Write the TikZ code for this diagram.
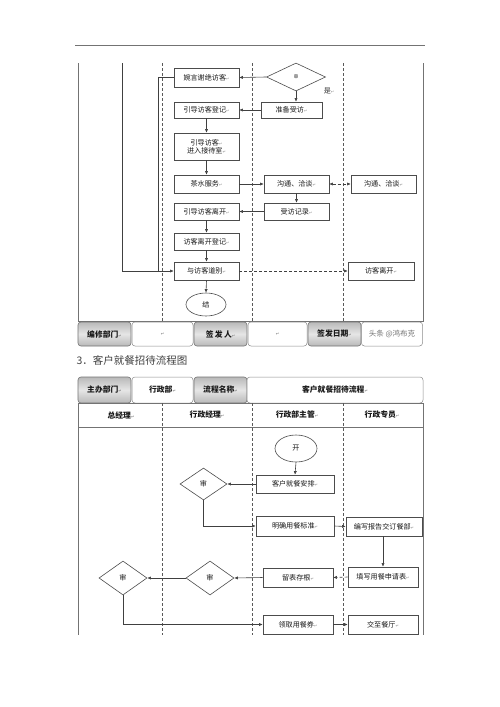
\documentclass[tikz,border=0pt]{standalone}
\usepackage{fontspec}
\setmainfont{Noto Sans CJK SC}
\newfontfamily\dejavu{DejaVu Sans}
\usetikzlibrary{shapes.geometric,arrows.meta}
\newcommand\lbl{\fontsize{7.1}{8.4}\selectfont}
\newcommand\hlbl{\fontsize{7.8}{9}\selectfont}
\newcommand\rmk{{\dejavu\fontsize{4}{4}\selectfont\textcolor{black!45}{↵}}}
\begin{document}
\begin{tikzpicture}[x=1pt,y=-1pt,
 box/.style={draw=black!70, line width=0.6pt, fill=white, inner sep=1pt, font=\lbl, text=black!90, align=center},
 gcell/.style={draw=black!55, line width=0.6pt, rounded corners=3pt, top color=gray!55, bottom color=gray!55, middle color=gray!20, font=\hlbl\bfseries, text=black!90},
 wcell/.style={draw=black!45, line width=0.5pt, rounded corners=3pt, fill=white, font=\hlbl\bfseries, text=black!90},
 lane/.style={draw=black!65, line width=0.6pt, densely dashed},
 frame/.style={draw=black!55, line width=0.8pt},
 link/.style={draw=black!75, line width=0.6pt},
 arr/.style={link, -{Latex[length=3.6pt,width=3.2pt]}},
 darr/.style={arr, densely dashed},
 dec/.style={diamond, draw=black!70, line width=0.6pt, inner sep=0pt, fill=white, font=\lbl, text=black!90},
 term/.style={ellipse, draw=black!70, line width=0.6pt, inner sep=0pt, fill=white, font=\lbl, text=black!90},
 lanelbl/.style={font=\hlbl\bfseries, text=black!90},
]
\useasboundingbox[fill=white] (0,0) rectangle (500,707);

% ===== upper diagram =====
\draw[frame] (75,45) -- (425,45);
\draw[frame] (78,63) -- (78,321) -- (423,321) -- (423,63);
\foreach \x in {162,252,343} \draw[lane] (\x,63) -- (\x,321);

\node[box, minimum width=65, minimum height=19] (wanyan) at (206.5,77.5) {婉言谢绝访客\rmk};
\node[dec, minimum width=59, minimum height=28] (d1) at (296,77) {\fontsize{4.5}{5}\selectfont 审};
\node[font=\lbl, text=black!80] (shi) at (329,91) {是\rmk};
\node[box, minimum width=61, minimum height=16] (zhunbei) at (291.5,110) {准备受访\rmk};
\node[box, minimum width=65, minimum height=16] (dengji) at (206.5,110) {引导访客登记\rmk};
\node[box, minimum width=65, minimum height=27] (jiedai) at (206.5,146.5) {引导访客\rmk\\进入接待室\rmk};
\node[box, minimum width=65, minimum height=18] (chashui) at (206.5,184) {茶水服务\rmk};
\node[box, minimum width=65, minimum height=18] (goutongA) at (296.5,184) {沟通、洽谈\rmk};
\node[box, minimum width=65, minimum height=18] (goutongB) at (383.5,184) {沟通、洽谈\rmk};
\node[box, minimum width=65, minimum height=17] (shoufang) at (296.5,211.5) {受访记录\rmk};
\node[box, minimum width=65, minimum height=17] (likai) at (206.5,211.5) {引导访客离开\rmk};
\node[box, minimum width=65, minimum height=17] (likaidj) at (206.5,241.5) {访客离开登记\rmk};
\node[box, minimum width=65, minimum height=18] (daobie) at (206.5,271) {与访客道别\rmk};
\node[box, minimum width=66, minimum height=18] (fklk) at (381,271) {访客离开\rmk};
\node[term, minimum width=40, minimum height=23] (jie) at (206,304.5) {结};

\coordinate (in1) at (122,63);
\coordinate (j1) at (158,271);
\draw[arr] (in1) |- (daobie.west);
\draw[link] (wanyan.west) -| (j1);
\draw[arr] (d1.west) -- (wanyan.east);
\draw[arr] (d1.south) -- (d1.south |- zhunbei.north);
\draw[arr] (zhunbei.west) -- (dengji.east);
\draw[arr] (dengji.south) -- (jiedai.north);
\draw[arr] (jiedai.south) -- (chashui.north);
\draw[arr] (chashui.east) -- (goutongA.west);
\draw[darr, {Latex[length=3.6pt,width=3.2pt]}-{Latex[length=3.6pt,width=3.2pt]}] (goutongA.east) -- (goutongB.west);
\draw[arr] (goutongA.south) -- (shoufang.north);
\draw[arr] (shoufang.west) -- (likai.east);
\draw[arr] (likai.south) -- (likaidj.north);
\draw[arr] (likaidj.south) -- (daobie.north);
\draw[darr] (daobie.east) -- (fklk.west);
\draw[arr] (daobie.south) -- (jie.north);

% bottom sign row
\node[gcell, minimum width=53, minimum height=24] (bxbm) at (104.5,334) {编修部门\rmk};
\node[wcell, minimum width=61, minimum height=24] (bxw) at (162.5,334) {\rmk};
\node[gcell, minimum width=53, minimum height=24] (qfr) at (220.5,334) {签\,发\,人\rmk};
\node[wcell, minimum width=59, minimum height=24] (qfw) at (277.5,334) {\rmk};
\node[gcell, minimum width=53, minimum height=24] (qfrq) at (334.5,334) {签发日期\rmk};
\node[wcell, minimum width=61, minimum height=24] (wm) at (392,334) {};
\node[font=\fontsize{7.5}{8}\selectfont, text=black!55] (wmt) at (392,334) {头条 @鸿布克};

% ===== lower diagram =====
\node[anchor=west, font=\fontsize{10.5}{12}\selectfont, text=black!75] (title) at (73,360) {3．客户就餐招待流程图};

\node[gcell, minimum width=53, minimum height=26] (zbbm) at (104.5,390) {主办部门\rmk};
\node[wcell, minimum width=61, minimum height=26] (xzb) at (162.5,390) {行政部\rmk};
\node[gcell, minimum width=53, minimum height=26] (lcmc) at (220.5,390) {流程名称\rmk};
\node[wcell, minimum width=176, minimum height=26] (lcname) at (335,390) {客户就餐招待流程\rmk};

\draw[frame] (78,403) -- (423,403);
\draw[frame] (78,427) -- (423,427);
\draw[frame] (78,403) -- (78,635);
\draw[frame] (423,403) -- (423,635);
\foreach \x in {162,252,343} \draw[lane] (\x,403) -- (\x,635);

\node[lanelbl] (l1) at (121,415) {总经理\rmk};
\node[lanelbl] (l2) at (207,415) {行政经理\rmk};
\node[lanelbl] (l3) at (297,415) {行政部主管\rmk};
\node[lanelbl] (l4) at (382,415) {行政专员\rmk};

\node[term, minimum width=42, minimum height=27] (kai) at (296,448.5) {开};
\node[box, minimum width=78, minimum height=18] (anpai) at (295,484) {客户就餐安排\rmk};
\node[dec, minimum width=47, minimum height=32] (shen1) at (203.5,484) {审};
\node[box, minimum width=78, minimum height=20] (mingque) at (295,526) {明确用餐标准\rmk};
\node[box, minimum width=76, minimum height=19] (bianxie) at (384,526.5) {编写报告交订餐部\rmk};
\node[box, minimum width=70, minimum height=20] (tianxie) at (383,577) {填写用餐申请表\rmk};
\node[box, minimum width=70, minimum height=19] (liubiao) at (298,577.5) {留表存根\rmk};
\node[dec, minimum width=48, minimum height=34] (shen2) at (210,578) {审};
\node[dec, minimum width=48, minimum height=34] (shen3) at (123,578) {审};
\node[box, minimum width=70, minimum height=19] (lingqu) at (298,624.5) {领取用餐券\rmk};
\node[box, minimum width=70, minimum height=19] (jiaozhi) at (383,624.5) {交至餐厅\rmk};

\draw[arr] (kai.south) -- (anpai.north);
\draw[arr] (anpai.west) -- (shen1.east);
\draw[arr] (shen1.south) |- (mingque.west);
\draw[arr] (mingque.east) -- (bianxie.west);
\draw[arr] (bianxie.south -| tianxie.north) -- (tianxie.north);
\draw[darr] (tianxie.west) -- (liubiao.east);
\draw[arr] (liubiao.west) -- (shen2.east);
\draw[arr] (shen2.west) -- (shen3.east);
\draw[arr] (shen3.south) |- (lingqu.west);
\draw[arr] (lingqu.east) -- (jiaozhi.west);
\end{tikzpicture}
\end{document}
